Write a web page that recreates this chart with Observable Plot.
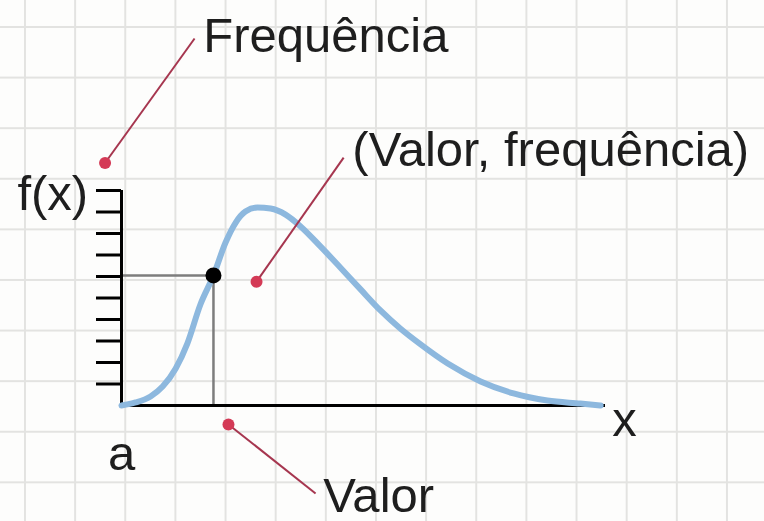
<!DOCTYPE html>
<html>
<head>
<meta charset="utf-8">
<script src="https://cdn.jsdelivr.net/npm/d3@7"></script>
<script src="https://cdn.jsdelivr.net/npm/@observablehq/plot@0.6"></script>
<style>
  html, body { margin: 0; padding: 0; background: #fdfdfc; }
  #chart {
    width: 764px; height: 521px; overflow: hidden;
    background-color: #fdfdfc;
    background-image:
      linear-gradient(to right, #e3e3e1 2px, transparent 2px),
      linear-gradient(to bottom, #e3e3e1 2px, transparent 2px);
    background-size: 50.15px 50.6px;
    background-position: 24px 26px;
  }
  #chart svg { display: block; overflow: visible; }
</style>
</head>
<body>
<div id="chart"></div>
<script>
// Curve f(x)
const curveX = [0, 0.29, 0.6, 0.85, 1.12, 1.36, 1.63, 1.9, 2.15, 2.36, 2.56, 2.81, 3.08, 3.39, 3.7, 4.11, 4.52, 4.94, 5.35, 5.76, 6.18, 6.74, 7.42, 8.1, 8.8, 9.48, 9.9];
const curveY = [0, 0.14, 0.42, 0.88, 1.72, 2.88, 4.7, 6.05, 7.58, 8.51, 9.02, 9.21, 9.16, 8.88, 8.33, 7.4, 6.42, 5.4, 4.42, 3.58, 2.84, 1.95, 1.12, 0.56, 0.23, 0.09, 0];

// Highlighted point (valor, frequência)
const pointX = [1.9];
const pointY = [6.05];

// Y-axis ticks
const yTicks = [1, 2, 3, 4, 5, 6, 7, 8, 9, 10];

// Axis extents
const xAxisEnd = [10];
const yAxisEnd = [10];

// Labels
const labelText = ["Frequência", "(Valor, frequência)", "Valor", "f(x)", "a", "x"];
const labelX = [1.69, 4.77, 4.17, -2.15, 0, 10.14];
const labelY = [16.42, 11.16, -4.95, 9.07, -3.02, -1.4];
const labelAnchor = ["start", "start", "start", "start", "middle", "start"];

// Annotation leaders (dot end -> label end)
const leaderX1 = [-0.34, 2.79, 2.21];
const leaderY1 = [11.28, 5.76, -0.88];
const leaderX2 = [1.51, 4.59, 4.01];
const leaderY2 = [17.07, 11.53, -4.09];

const curve = curveX.map((x, i) => ({x, y: curveY[i]}));
const pts = pointX.map((x, i) => ({x, y: pointY[i]}));
const labels = labelText.map((t, i) => ({t, x: labelX[i], y: labelY[i], a: labelAnchor[i]}));
const leaders = leaderX1.map((x1, i) => ({x1, y1: leaderY1[i], x2: leaderX2[i], y2: leaderY2[i]}));

const font = "'Liberation Sans', Arial, sans-serif";
const textOpts = {x: "x", y: "y", text: "t", lineAnchor: "bottom", fontSize: 49, fill: "#1e1e1e", fontFamily: font};

const chart = Plot.plot({
  width: 764,
  height: 521,
  marginLeft: 121,
  marginRight: 159,
  marginTop: 190,
  marginBottom: 116,
  style: {background: "transparent", fontFamily: font, overflow: "visible"},
  x: {domain: [0, 10], axis: null},
  y: {domain: [0, 10]},
  marks: [
    // guides to the highlighted point
    Plot.ruleY(pts, {y: "y", x1: 0, x2: "x", stroke: "#7d7d7d", strokeWidth: 2.5}),
    Plot.ruleX(pts, {x: "x", y1: 0, y2: "y", stroke: "#7d7d7d", strokeWidth: 2.5}),
    // axes
    Plot.axisY({ticks: yTicks, tickSize: 25, tickFormat: () => "", stroke: "#000", strokeWidth: 3, label: null}),
    Plot.ruleX([0], {y1: 0, y2: yAxisEnd[0], stroke: "#000", strokeWidth: 3}),
    Plot.ruleY([0], {x1: 0, x2: xAxisEnd[0], stroke: "#000", strokeWidth: 3}),
    // curve
    Plot.line(curve, {x: "x", y: "y", curve: "monotone-x", stroke: "#8db8de", strokeWidth: 6, strokeLinecap: "round"}),
    // point
    Plot.dot(pts, {x: "x", y: "y", r: 8, fill: "#000", stroke: "none"}),
    // annotation leaders
    Plot.link(leaders, {x1: "x1", y1: "y1", x2: "x2", y2: "y2", stroke: "#a6364f", strokeWidth: 2}),
    Plot.dot(leaders, {x: "x1", y: "y1", r: 6, fill: "#d43a56", stroke: "none"}),
    // labels
    Plot.text(labels, {...textOpts, filter: d => d.a === "start", textAnchor: "start"}),
    Plot.text(labels, {...textOpts, filter: d => d.a === "middle", textAnchor: "middle"})
  ]
});
document.getElementById("chart").appendChild(chart);
</script>
</body>
</html>
